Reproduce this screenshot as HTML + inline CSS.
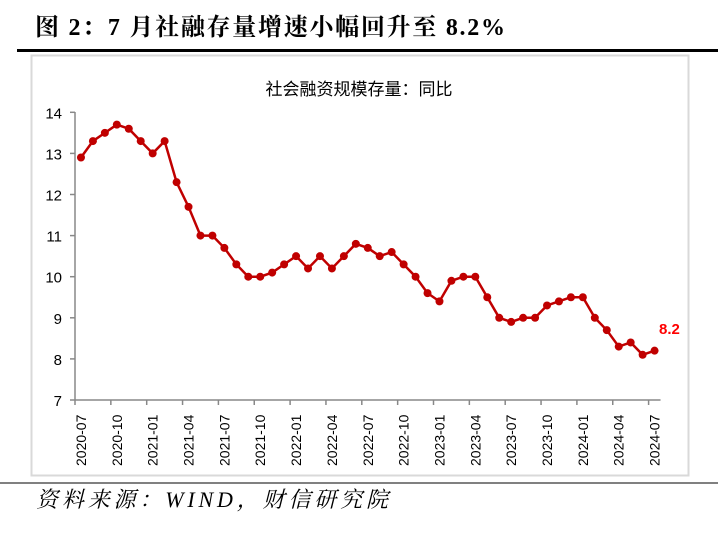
<!DOCTYPE html>
<html><head><meta charset="utf-8"><style>
body{margin:0;background:#fff;width:718px;height:534px;overflow:hidden;font-family:"Liberation Sans","Noto Sans CJK SC",sans-serif}
</style></head><body>
<svg width="718" height="534" xmlns="http://www.w3.org/2000/svg">
<text x="35" y="35" font-family="Liberation Serif, Noto Serif CJK SC, serif" font-weight="bold" font-size="24" fill="#000" textLength="470" lengthAdjust="spacing">图 2：7 月社融存量增速小幅回升至 8.2%</text>
<rect x="17" y="49" width="701" height="3" fill="#000"/>
<rect x="31.5" y="55.5" width="657" height="420" fill="#fff" stroke="#d9d9d9" stroke-width="2"/>
<text x="359" y="95" text-anchor="middle" font-size="17" fill="#000">社会融资规模存量：同比</text>
<g id="c"></g>
<line x1="0" y1="483" x2="718" y2="483" stroke="#000" stroke-width="1"/>
<text x="36" y="507" font-family="Liberation Serif, Noto Serif CJK SC, serif" font-style="italic" font-size="22" fill="#000" textLength="352" lengthAdjust="spacing">资料来源：WIND，财信研究院</text>
</svg>
<script>
const d=[12.9,13.3,13.5,13.7,13.6,13.3,13.0,13.3,12.3,11.7,11.0,11.0,10.7,10.3,10.0,10.0,10.1,10.3,10.5,10.2,10.5,10.2,10.5,10.8,10.7,10.5,10.6,10.3,10.0,9.6,9.4,9.9,10.0,10.0,9.5,9.0,8.9,9.0,9.0,9.3,9.4,9.5,9.5,9.0,8.7,8.3,8.4,8.1,8.2];
const X0=75,S=11.95,Y=v=>400-(v-7)*41.1;
const px=i=>X0+(i+0.5)*S;
let h='';
h+=`<line x1="${X0}" y1="112" x2="${X0}" y2="400" stroke="#888" stroke-width="1.5"/>`;
for(let v=7;v<=14;v++){h+=`<line x1="70" y1="${Y(v)}" x2="${X0}" y2="${Y(v)}" stroke="#888" stroke-width="1.5"/><text x="62" y="${Y(v)+6}" text-anchor="end" font-size="15" fill="#000">${v}</text>`;}
h+=`<line x1="${X0}" y1="400" x2="${X0+49*S}" y2="400" stroke="#888" stroke-width="1.5"/>`;
const labs=['2020-07','2020-10','2021-01','2021-04','2021-07','2021-10','2022-01','2022-04','2022-07','2022-10','2023-01','2023-04','2023-07','2023-10','2024-01','2024-04','2024-07'];
for(let k=0;k<17;k++){const i=k*3,tx=X0+i*S;h+=`<line x1="${tx}" y1="400" x2="${tx}" y2="405" stroke="#888" stroke-width="1.5"/>`;
h+=`<text transform="translate(${px(i)+5},466) rotate(-90)" font-size="14" fill="#000">${labs[k]}</text>`;}
h+=`<polyline fill="none" stroke="#c00000" stroke-width="2.5" points="${d.map((v,i)=>px(i)+','+Y(v)).join(' ')}"/>`;
d.forEach((v,i)=>h+=`<circle cx="${px(i)}" cy="${Y(v)}" r="4" fill="#c00000"/>`);
h+=`<text x="659" y="334" font-size="15" font-weight="bold" fill="#ff0000">8.2</text>`;
document.getElementById('c').innerHTML=h;
</script>
</body></html>
